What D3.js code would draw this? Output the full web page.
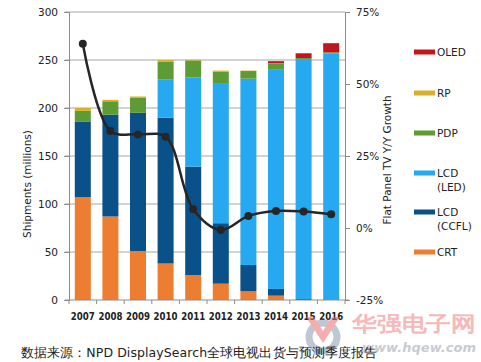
<!DOCTYPE html>
<html>
<head>
<meta charset="utf-8">
<script src="https://cdn.jsdelivr.net/npm/d3@7"></script>
<style>
  body { margin: 0; background: #fff; }
  svg text { font-family: "DejaVu Sans", Verdana, sans-serif; }
</style>
</head>
<body>
<svg id="chart" width="481" height="362"></svg>
<script>
// data
var years = ["2007", "2008", "2009", "2010", "2011", "2012", "2013", "2014", "2015", "2016"];
var crt  = [107, 87, 51, 38, 26, 17, 9, 4.5, 0, 0];
var ccfl = [79, 106, 144, 152, 113, 63, 27.5, 7, 1, 0];
var led  = [0, 0, 0, 40, 93, 146, 194, 229, 250, 257];
var pdp  = [11, 14, 16, 18.5, 17.5, 12, 8, 5.7, 1, 1];
var rp   = [3, 1.5, 1, 1.5, 0.8, 1, 0.5, 0.3, 0, 0];
var oled = [0, 0, 0, 0, 0, 0, 0, 2.3, 5, 9.5];
var growth = [64, 33.7, 32.5, 31.7, 6.5, -0.7, 4.2, 5.9, 5.7, 4.8];

var leftTicks = [0, 50, 100, 150, 200, 250, 300];
var rightTicks = [-25, 0, 25, 50, 75];

var seriesNames = ["CRT", "LCD (CCFL)", "LCD (LED)", "PDP", "RP", "OLED"];
var seriesColors = ["#ed7d31", "#0a5189", "#27a9f1", "#5e9b35", "#d8b02a", "#c0171c"];

var svg = d3.select("#chart");
var margin = {left: 69, top: 12};
var width = 276, height = 288;

var rows = years.map(function(y, i) {
    return {year: y, "CRT": crt[i], "LCD (CCFL)": ccfl[i], "LCD (LED)": led[i],
            "PDP": pdp[i], "RP": rp[i], "OLED": oled[i]};
});

var x = d3.scaleBand().domain(years).range([0, width]).paddingInner(0.42).paddingOuter(0.21);
var y = d3.scaleLinear().domain([0, 300]).range([height, 0]);
var y2 = d3.scaleLinear().domain([-25, 75]).range([height, 0]);

var g = svg.append("g").attr("transform", "translate(" + margin.left + "," + margin.top + ")");

// gridlines
g.append("g")
    .selectAll("line")
    .data(leftTicks.filter(d => d > 0))
    .enter().append("line")
    .attr("x1", -4).attr("x2", width)
    .attr("y1", d => y(d)).attr("y2", d => y(d))
    .attr("stroke", "#a6a6a6").attr("stroke-width", 1);

// stacked bars
var stack = d3.stack().keys(seriesNames)(rows);
g.append("g").selectAll("g")
    .data(stack).enter().append("g")
    .attr("fill", (d, i) => seriesColors[i])
    .selectAll("rect")
    .data(d => d).enter().append("rect")
    .attr("x", d => x(d.data.year))
    .attr("width", x.bandwidth())
    .attr("y", d => y(d[1]))
    .attr("height", d => Math.max(0, y(d[0]) - y(d[1])));

// left axis
var axL = g.append("g")
    .call(d3.axisLeft(y).tickValues(leftTicks).tickSize(5).tickPadding(6));
axL.select(".domain").attr("stroke", "#8c8c8c");
axL.selectAll(".tick line").attr("stroke", "#8c8c8c");
axL.selectAll("text").attr("font-size", 10.5).attr("fill", "#222");

// right axis
var axR = g.append("g").attr("transform", "translate(" + width + ",0)")
    .call(d3.axisRight(y2).tickValues(rightTicks).tickSize(5).tickPadding(6).tickFormat(d => d + "%"));
axR.select(".domain").attr("stroke", "#8c8c8c");
axR.selectAll(".tick line").attr("stroke", "#8c8c8c");
axR.selectAll("text").attr("font-size", 10.5).attr("fill", "#222");

// bottom axis
var axB = g.append("g").attr("transform", "translate(0," + height + ")");
axB.append("line").attr("x1", -4).attr("x2", width + 4).attr("stroke", "#8c8c8c");
axB.selectAll(".sep")
    .data(d3.range(years.length + 1)).enter().append("line")
    .attr("x1", i => i * x.step()).attr("x2", i => i * x.step())
    .attr("y1", 0).attr("y2", 4)
    .attr("stroke", "#8c8c8c");
axB.selectAll(".lbl")
    .data(years).enter().append("text")
    .attr("x", d => x(d) + x.bandwidth() / 2)
    .attr("y", 20)
    .attr("text-anchor", "middle")
    .attr("font-size", 10.5)
    .attr("font-weight", "bold")
    .attr("fill", "#222")
    .attr("textLength", 24)
    .attr("lengthAdjust", "spacingAndGlyphs")
    .text(d => d);

// growth line
var line = d3.line()
    .x((d, i) => x(years[i]) + x.bandwidth() / 2)
    .y(d => y2(d))
    .curve(d3.curveCatmullRom.alpha(0.5));
g.append("path")
    .datum(growth)
    .attr("d", line)
    .attr("fill", "none")
    .attr("stroke", "#262626")
    .attr("stroke-width", 2.5);
g.selectAll(".pt")
    .data(growth).enter().append("circle")
    .attr("cx", (d, i) => x(years[i]) + x.bandwidth() / 2)
    .attr("cy", d => y2(d))
    .attr("r", 4)
    .attr("fill", "#262626");

// axis titles
svg.append("text")
    .attr("transform", "translate(31,184) rotate(-90)")
    .attr("text-anchor", "middle")
    .attr("font-size", 10.5)
    .attr("fill", "#222")
    .text("Shipments (millions)");
svg.append("text")
    .attr("transform", "translate(391,160) rotate(-90)")
    .attr("text-anchor", "middle")
    .attr("font-size", 10.5)
    .attr("fill", "#222")
    .text("Flat Panel TV Y/Y Growth");

// legend
var legendItems = [
    {name: ["OLED"], color: seriesColors[5], y: 52},
    {name: ["RP"], color: seriesColors[4], y: 93},
    {name: ["PDP"], color: seriesColors[3], y: 133},
    {name: ["LCD", "(LED)"], color: seriesColors[2], y: 173},
    {name: ["LCD", "(CCFL)"], color: seriesColors[1], y: 212},
    {name: ["CRT"], color: seriesColors[0], y: 252}
];
var leg = svg.append("g").selectAll("g")
    .data(legendItems).enter().append("g")
    .attr("transform", d => "translate(414," + d.y + ")");
leg.append("rect")
    .attr("x", 0).attr("y", -2.5).attr("width", 21).attr("height", 5)
    .attr("fill", d => d.color);
leg.append("text")
    .attr("x", 23).attr("y", 4)
    .attr("font-size", 10.5)
    .attr("fill", "#222")
    .selectAll("tspan")
    .data(d => d.name).enter().append("tspan")
    .attr("x", 23)
    .attr("dy", (d, i) => i === 0 ? 0 : 14)
    .text(d => d);

// watermark
var wm = svg.append("g").attr("opacity", 0.55);
wm.append("circle").attr("cx", 323).attr("cy", 337).attr("r", 14)
    .attr("fill", "none").attr("stroke", "#8a9bb0").attr("stroke-width", 7);
wm.append("path").attr("d", "M306,317 L323,343 L340,317 L332,317 L323,331 L314,317 Z")
    .attr("fill", "#f06b6b");
wm.append("text")
    .attr("x", 352).attr("y", 331)
    .attr("font-family", "Noto Sans CJK SC")
    .attr("font-size", 21).attr("font-weight", "bold")
    .attr("fill", "#f07f7f")
    .attr("textLength", 124)
    .attr("lengthAdjust", "spacingAndGlyphs")
    .text("华强电子网");
wm.append("text")
    .attr("x", 362).attr("y", 352)
    .attr("font-size", 13).attr("font-weight", "bold").attr("font-style", "italic")
    .attr("fill", "#9aa3ad")
    .attr("textLength", 114)
    .text("www.hqew.com");

// source caption
svg.append("text")
    .attr("x", 21).attr("y", 357)
    .attr("font-family", "Noto Sans CJK SC, DejaVu Sans")
    .attr("font-size", 12.5)
    .attr("fill", "#222")
    .attr("textLength", 356)
    .text("数据来源：NPD DisplaySearch全球电视出货与预测季度报告");
</script>
</body>
</html>
